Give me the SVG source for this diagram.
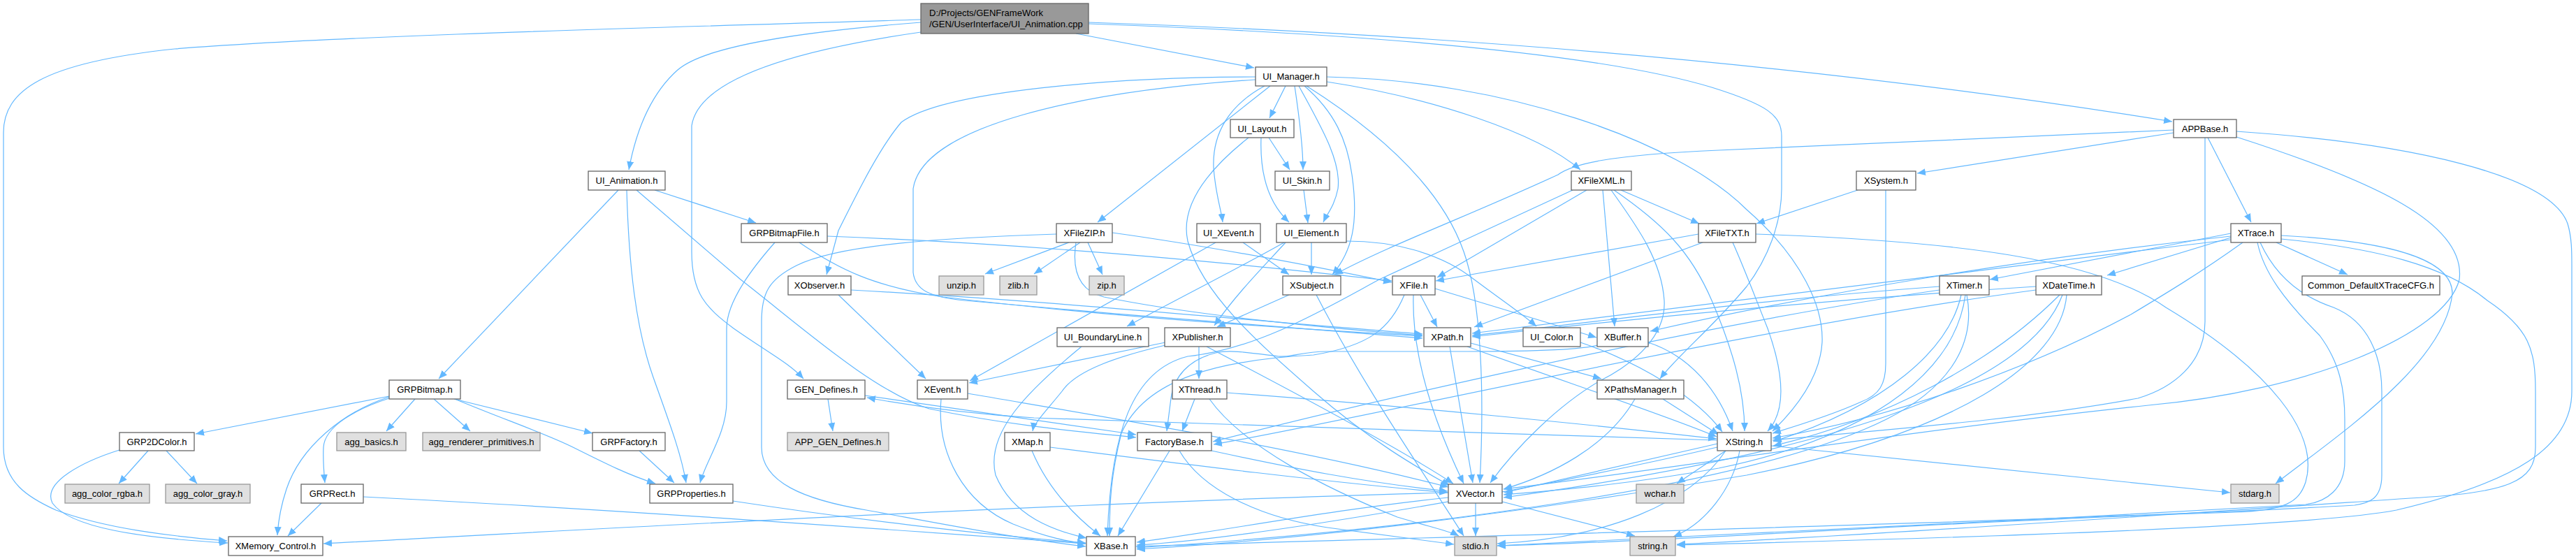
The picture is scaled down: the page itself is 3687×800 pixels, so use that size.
<svg xmlns="http://www.w3.org/2000/svg" width="3687" height="800" viewBox="0 0 3687 800">
<style>
.n rect{fill:#ffffff;stroke:#666666;stroke-width:1.3}
.g rect{fill:#e0e0e0;stroke:#999999;stroke-width:1.3}
.r rect{fill:#999999;stroke:#666666;stroke-width:1.3}
text{font-family:"Liberation Sans",Arial,sans-serif;font-size:13px;fill:#000000;text-anchor:middle}
.r text{text-anchor:start}
#edges path{fill:none;stroke:#63B8FF;stroke-width:1.2;marker-end:url(#a)}
</style>
<defs>
<marker id="a" viewBox="0 0 12 10" refX="12" refY="5" markerWidth="12" markerHeight="10" markerUnits="userSpaceOnUse" orient="auto">
<path d="M0,0 L12,5 L0,10 z" fill="#63B8FF"/>
</marker>
</defs>
<rect width="3687" height="800" fill="#ffffff"/>
<g id="edges">
<path d="M1318,28 C1000,38 500,50 250,70 C60,90 5,130 5,190 L5,640 C5,690 40,712 80,730 C150,756 240,767 325,774"/>
<path d="M1318,32 C1150,45 1010,65 970,100 C925,140 908,200 900,243"/>
<path d="M1318,46 C1150,70 1000,110 990,180 L990,360 C990,420 1010,440 1050,470 C1100,505 1130,520 1150,542"/>
<path d="M1540,48 L1795,97"/>
<path d="M1558,32 Q2400,60 3109,174"/>
<path d="M1558,34 C2000,50 2300,80 2450,125 C2530,150 2550,165 2550,195 L2550,270 C2550,320 2530,370 2500,410 C2450,470 2400,510 2376,542"/>
<path d="M937,272 L1082,319"/>
<path d="M885,272 L628,542"/>
<path d="M897,272 C900,380 910,470 935,540 C960,610 975,650 982,691"/>
<path d="M911,272 L1060,400 C1150,470 1250,560 1330,585 C1450,610 1550,618 1626,626"/>
<path d="M1109,347 C1080,380 1040,430 1040,470 L1040,575 C1040,620 1010,660 1002,691"/>
<path d="M1184,338 C1500,350 1800,380 1992,402"/>
<path d="M1144,347 C1200,385 1250,410 1350,425 C1600,455 1850,470 2036,481"/>
<path d="M1797,110 C1600,110 1350,130 1290,175 C1260,210 1230,270 1200,330 L1183,393"/>
<path d="M1797,114 C1550,130 1320,180 1307,270 L1307,390 C1310,415 1330,425 1380,430 C1600,450 1850,470 2036,484"/>
<path d="M1810,123 C1760,150 1735,190 1737,240 C1740,280 1748,300 1750,318"/>
<path d="M1818,123 L1571,318"/>
<path d="M1840,123 L1817,169"/>
<path d="M1853,123 C1860,170 1865,210 1865,243"/>
<path d="M1859,123 C1890,180 1920,230 1915,270 C1910,295 1900,305 1894,318"/>
<path d="M1867,123 C1910,160 1928,200 1935,250 C1945,320 1935,360 1907,393"/>
<path d="M1870,123 C1960,180 2060,260 2095,360 C2120,430 2125,560 2118,691"/>
<path d="M1899,110 C2150,115 2400,200 2500,300 C2580,370 2610,440 2608,490 C2605,540 2570,585 2537,617"/>
<path d="M1899,117 C2050,140 2200,190 2262,243"/>
<path d="M3111,190 L2744,248"/>
<path d="M3160,197 L3222,318"/>
<path d="M3111,186 L2460,215 C2300,222 2250,235 2230,250 C2100,310 1990,350 1910,393"/>
<path d="M3156,197 L3156,460 C3156,520 3110,555 3060,570 C2900,600 2700,615 2537,630"/>
<path d="M3201,188 C3450,205 3650,250 3675,320 C3681,340 3681,360 3681,380 L3681,560 C3681,640 3600,690 3430,730 C3300,755 2800,770 2400,780"/>
<path d="M3201,196 C3400,260 3530,320 3520,400 C3500,480 3300,560 3075,580 C2700,620 2400,670 2152,700"/>
<path d="M2659,272 L2514,320"/>
<path d="M2699,272 L2699,520 C2699,550 2690,565 2664,575 C2620,595 2570,610 2537,620"/>
<path d="M2271,272 L2057,397"/>
<path d="M2294,272 L2311,467"/>
<path d="M2306,272 C2340,320 2378,370 2382,430 C2385,480 2340,520 2290,545 C2230,580 2170,640 2133,691"/>
<path d="M2310,272 C2380,320 2420,360 2450,430 C2480,500 2497,560 2497,617"/>
<path d="M2320,272 L2432,320"/>
<path d="M2251,272 L1974,400 C1900,440 1800,500 1700,510 C1620,530 1590,620 1585,767"/>
<path d="M2431,335 L2055,402"/>
<path d="M2437,347 L2110,468"/>
<path d="M2480,347 C2495,380 2510,420 2530,470 C2555,540 2555,590 2530,617"/>
<path d="M2513,335 C2800,345 3000,370 3100,440 C3250,530 3320,620 3300,690 C3290,720 3270,730 3200,733 C2800,745 2400,775 2143,781"/>
<path d="M3193,334 L2848,400"/>
<path d="M3193,340 L3016,394"/>
<path d="M3193,338 C2900,370 2600,420 2362,474"/>
<path d="M3193,343 C2800,390 2400,440 2107,477"/>
<path d="M3258,347 L3360,393"/>
<path d="M3210,347 C3150,390 3100,420 3050,450 C2900,530 2700,600 2537,627"/>
<path d="M3265,337 C3420,345 3510,370 3510,420 C3500,520 3350,620 3257,692"/>
<path d="M3265,342 C3400,355 3500,380 3560,430 C3620,470 3629,500 3629,560 L3629,640 C3629,690 3590,705 3450,713 C3200,730 2700,765 2400,779"/>
<path d="M3231,347 C3240,390 3270,430 3320,480 C3350,520 3356,560 3356,600 L3356,660 C3356,700 3330,718 3300,722 C2900,745 2400,770 2143,781"/>
<path d="M3235,347 C3250,380 3280,420 3340,440 C3390,460 3409,510 3409,560 L3409,680 C3409,715 3390,720 3370,723 C3000,745 2000,770 1626,782"/>
<path d="M2776,410 C2500,430 2300,460 2107,480"/>
<path d="M2776,415 C2400,470 1900,590 1736,632"/>
<path d="M2807,422 C2790,500 2700,580 2538,632"/>
<path d="M2813,422 C2800,520 2700,620 2460,670 C2350,690 2250,700 2152,708"/>
<path d="M2815,422 C2830,500 2780,560 2700,600 C2500,700 2000,760 1627,784"/>
<path d="M2914,410 C2600,430 2300,460 2107,482"/>
<path d="M2914,415 C2500,470 1950,600 1737,636"/>
<path d="M2948,422 C2850,520 2700,600 2538,638"/>
<path d="M2952,422 C2900,560 2600,650 2152,712"/>
<path d="M2958,422 C2950,520 2800,620 2500,680 C2200,730 1900,770 1627,786"/>
<path d="M2075,496 L2108,691"/>
<path d="M2100,496 C2250,550 2400,600 2457,625"/>
<path d="M2105,491 L2292,542"/>
<path d="M2380,571 L2460,622"/>
<path d="M2340,571 C2300,640 2220,680 2152,700"/>
<path d="M2262,490 C2350,520 2430,570 2465,618"/>
<path d="M2359,490 C2420,510 2460,560 2480,617"/>
<path d="M2290,493 C2270,500 2200,503 2100,503 L1900,503 C1860,503 1850,512 1830,510 C1790,505 1760,500 1740,505 C1700,515 1680,540 1676,570 L1670,617"/>
<path d="M2112,720 L2112,767"/>
<path d="M2150,718 L2340,767"/>
<path d="M2073,712 C1900,730 1750,760 1627,776"/>
<path d="M2073,705 C1500,720 800,760 463,778"/>
<path d="M2458,635 L2153,705"/>
<path d="M2458,640 C2200,700 1800,770 1627,780"/>
<path d="M2470,645 C2420,720 2300,770 2143,778"/>
<path d="M2490,645 C2480,700 2440,750 2395,768"/>
<path d="M2470,645 L2400,692"/>
<path d="M2535,638 L3192,705"/>
<path d="M2457,630 C2100,618 1600,605 1480,598 C1380,592 1300,580 1241,569"/>
<path d="M1238,566 L1626,622"/>
<path d="M1185,571 L1192,617"/>
<path d="M1668,490 L1387,548"/>
<path d="M1668,494 C1600,510 1540,530 1520,560 C1500,585 1480,605 1478,617"/>
<path d="M1716,496 L1716,542"/>
<path d="M1727,496 C1850,560 2000,640 2080,692"/>
<path d="M1710,571 L1692,617"/>
<path d="M1756,562 C2000,580 2300,610 2457,628"/>
<path d="M1731,571 C1780,640 1900,700 2000,740 C2050,755 2075,760 2088,767"/>
<path d="M1347,571 C1340,650 1380,720 1450,750 C1500,770 1530,775 1554,778"/>
<path d="M1385,563 C1600,600 1850,640 2073,697"/>
<path d="M1477,645 C1500,700 1540,740 1575,767"/>
<path d="M1503,640 C1700,665 1900,690 2072,705"/>
<path d="M1674,645 L1600,767"/>
<path d="M1734,645 C1850,670 1950,690 2072,703"/>
<path d="M1688,645 C1720,700 1800,740 1900,755 C2000,768 2050,775 2081,779"/>
<path d="M1548,496 C1470,560 1410,620 1425,680 C1450,740 1510,760 1555,770"/>
<path d="M1200,422 L1325,542"/>
<path d="M1218,415 C1500,430 1800,460 2036,478"/>
<path d="M1530,347 L1410,392"/>
<path d="M1546,347 L1480,392"/>
<path d="M1557,347 L1578,393"/>
<path d="M1512,335 C1350,340 1200,350 1140,380 C1100,400 1090,420 1090,460 L1090,640 C1090,690 1150,715 1240,730 C1350,750 1450,770 1554,782"/>
<path d="M1592,333 C1750,355 1900,385 1992,404"/>
<path d="M1540,347 C1535,380 1540,415 1580,425 C1700,450 1900,470 2036,480"/>
<path d="M1740,347 L1388,545"/>
<path d="M1779,347 L1845,393"/>
<path d="M1884,422 C1950,550 2040,680 2095,767"/>
<path d="M1877,347 L1877,393"/>
<path d="M1838,347 C1780,380 1700,420 1613,467"/>
<path d="M1927,345 C1990,345 2060,360 2110,400 C2150,430 2180,450 2199,467"/>
<path d="M1840,347 C1810,380 1770,420 1738,466"/>
<path d="M1845,422 L1742,468"/>
<path d="M1866,272 L1872,319"/>
<path d="M1816,197 L1846,243"/>
<path d="M1805,197 C1803,250 1815,290 1845,318"/>
<path d="M1787,197 C1720,250 1690,300 1700,345 C1720,420 1800,490 1880,560 C1960,630 2030,670 2075,695"/>
<path d="M2033,422 L2057,468"/>
<path d="M2023,422 C2020,520 2060,620 2095,692"/>
<path d="M2010,422 C1990,470 1960,495 1880,508 C1750,515 1640,540 1605,620 C1590,680 1588,720 1588,767"/>
<path d="M2054,413 L2285,483"/>
<path d="M557,567 L280,621"/>
<path d="M594,571 L553,617"/>
<path d="M621,571 L673,617"/>
<path d="M650,571 L848,620"/>
<path d="M651,571 C720,600 780,620 820,640 C870,665 900,680 938,692"/>
<path d="M557,570 C510,585 465,610 463,640 C462,660 464,680 465,691"/>
<path d="M557,568 C490,590 430,640 410,700 C400,730 398,750 397,766"/>
<path d="M212,645 L170,692"/>
<path d="M238,645 L282,692"/>
<path d="M171,644 C120,660 60,690 75,720 C100,755 200,770 326,777"/>
<path d="M460,720 L412,767"/>
<path d="M520,711 C900,730 1300,760 1554,778"/>
<path d="M915,645 L965,691"/>
<path d="M1049,717 C1200,740 1400,765 1554,777"/>
</g>
<g id="root" class="r"><rect x="1318" y="5" width="240" height="43"/><text x="1330" y="23">D:/Projects/GENFrameWork</text><text x="1330" y="39">/GEN/UserInterface/UI_Animation.cpp</text></g>
<g id="UI_Manager" class="n"><rect x="1797" y="96" width="102" height="27"/><text x="1848" y="114">UI_Manager.h</text></g>
<g id="APPBase" class="n"><rect x="3111" y="171" width="90" height="26"/><text x="3156" y="188.5">APPBase.h</text></g>
<g id="UI_Animation" class="n"><rect x="842" y="245" width="110" height="27"/><text x="897" y="263">UI_Animation.h</text></g>
<g id="UI_Layout" class="n"><rect x="1761" y="171" width="91" height="26"/><text x="1806.5" y="188.5">UI_Layout.h</text></g>
<g id="UI_Skin" class="n"><rect x="1825" y="245" width="78" height="27"/><text x="1864" y="263">UI_Skin.h</text></g>
<g id="XFileXML" class="n"><rect x="2249" y="245" width="86" height="27"/><text x="2292" y="263">XFileXML.h</text></g>
<g id="XSystem" class="n"><rect x="2657" y="245" width="85" height="27"/><text x="2699.5" y="263">XSystem.h</text></g>
<g id="GRPBitmapFile" class="n"><rect x="1061" y="320" width="123" height="27"/><text x="1122.5" y="338">GRPBitmapFile.h</text></g>
<g id="XFileZIP" class="n"><rect x="1512" y="320" width="80" height="27"/><text x="1552" y="338">XFileZIP.h</text></g>
<g id="UI_XEvent" class="n"><rect x="1713" y="320" width="91" height="27"/><text x="1758.5" y="338">UI_XEvent.h</text></g>
<g id="UI_Element" class="n"><rect x="1827" y="320" width="100" height="27"/><text x="1877" y="338">UI_Element.h</text></g>
<g id="XFileTXT" class="n"><rect x="2431" y="320" width="82" height="27"/><text x="2472" y="338">XFileTXT.h</text></g>
<g id="XTrace" class="n"><rect x="3193" y="320" width="72" height="27"/><text x="3229" y="338">XTrace.h</text></g>
<g id="unzip" class="g"><rect x="1344" y="395" width="64" height="27"/><text x="1376" y="413">unzip.h</text></g>
<g id="zlib" class="g"><rect x="1431" y="395" width="53" height="27"/><text x="1457.5" y="413">zlib.h</text></g>
<g id="zip" class="g"><rect x="1559" y="395" width="50" height="27"/><text x="1584" y="413">zip.h</text></g>
<g id="XSubject" class="n"><rect x="1836" y="395" width="83" height="27"/><text x="1877.5" y="413">XSubject.h</text></g>
<g id="XFile" class="n"><rect x="1993" y="395" width="61" height="27"/><text x="2023.5" y="413">XFile.h</text></g>
<g id="XObserver" class="n"><rect x="1128" y="395" width="90" height="27"/><text x="1173" y="413">XObserver.h</text></g>
<g id="XTimer" class="n"><rect x="2776" y="395" width="71" height="27"/><text x="2811.5" y="413">XTimer.h</text></g>
<g id="XDateTime" class="n"><rect x="2914" y="395" width="94" height="27"/><text x="2961" y="413">XDateTime.h</text></g>
<g id="Common_DefaultXTraceCFG" class="n"><rect x="3295" y="395" width="197" height="27"/><text x="3393.5" y="413">Common_DefaultXTraceCFG.h</text></g>
<g id="UI_BoundaryLine" class="n"><rect x="1513" y="469" width="131" height="27"/><text x="1578.5" y="487">UI_BoundaryLine.h</text></g>
<g id="XPublisher" class="n"><rect x="1667" y="469" width="94" height="27"/><text x="1714" y="487">XPublisher.h</text></g>
<g id="XPath" class="n"><rect x="2038" y="469" width="67" height="27"/><text x="2071.5" y="487">XPath.h</text></g>
<g id="UI_Color" class="n"><rect x="2180" y="469" width="82" height="27"/><text x="2221" y="487">UI_Color.h</text></g>
<g id="XBuffer" class="n"><rect x="2286" y="469" width="73" height="27"/><text x="2322.5" y="487">XBuffer.h</text></g>
<g id="GRPBitmap" class="n"><rect x="557" y="544" width="102" height="27"/><text x="608" y="562">GRPBitmap.h</text></g>
<g id="GEN_Defines" class="n"><rect x="1127" y="544" width="111" height="27"/><text x="1182.5" y="562">GEN_Defines.h</text></g>
<g id="XEvent" class="n"><rect x="1313" y="544" width="72" height="27"/><text x="1349" y="562">XEvent.h</text></g>
<g id="XThread" class="n"><rect x="1678" y="544" width="78" height="27"/><text x="1717" y="562">XThread.h</text></g>
<g id="XPathsManager" class="n"><rect x="2286" y="544" width="124" height="27"/><text x="2348" y="562">XPathsManager.h</text></g>
<g id="GRP2DColor" class="n"><rect x="171" y="619" width="107" height="26"/><text x="224.5" y="636.5">GRP2DColor.h</text></g>
<g id="agg_basics" class="g"><rect x="482" y="619" width="99" height="26"/><text x="531.5" y="636.5">agg_basics.h</text></g>
<g id="agg_renderer_primitives" class="g"><rect x="605" y="619" width="168" height="26"/><text x="689" y="636.5">agg_renderer_primitives.h</text></g>
<g id="GRPFactory" class="n"><rect x="848" y="619" width="104" height="26"/><text x="900" y="636.5">GRPFactory.h</text></g>
<g id="APP_GEN_Defines" class="g"><rect x="1127" y="619" width="145" height="26"/><text x="1199.5" y="636.5">APP_GEN_Defines.h</text></g>
<g id="XMap" class="n"><rect x="1438" y="619" width="65" height="26"/><text x="1470.5" y="636.5">XMap.h</text></g>
<g id="FactoryBase" class="n"><rect x="1628" y="619" width="106" height="26"/><text x="1681" y="636.5">FactoryBase.h</text></g>
<g id="XString" class="n"><rect x="2458" y="619" width="77" height="26"/><text x="2496.5" y="636.5">XString.h</text></g>
<g id="agg_color_rgba" class="g"><rect x="93" y="693" width="121" height="27"/><text x="153.5" y="711">agg_color_rgba.h</text></g>
<g id="agg_color_gray" class="g"><rect x="237" y="693" width="121" height="27"/><text x="297.5" y="711">agg_color_gray.h</text></g>
<g id="GRPRect" class="n"><rect x="431" y="693" width="89" height="27"/><text x="475.5" y="711">GRPRect.h</text></g>
<g id="GRPProperties" class="n"><rect x="930" y="693" width="119" height="27"/><text x="989.5" y="711">GRPProperties.h</text></g>
<g id="XVector" class="n"><rect x="2073" y="693" width="77" height="27"/><text x="2111.5" y="711">XVector.h</text></g>
<g id="wchar" class="g"><rect x="2342" y="693" width="68" height="27"/><text x="2376" y="711">wchar.h</text></g>
<g id="stdarg" class="g"><rect x="3193" y="693" width="69" height="27"/><text x="3227.5" y="711">stdarg.h</text></g>
<g id="XMemory_Control" class="n"><rect x="327" y="768" width="135" height="27"/><text x="394.5" y="786">XMemory_Control.h</text></g>
<g id="XBase" class="n"><rect x="1555" y="768" width="70" height="27"/><text x="1590" y="786">XBase.h</text></g>
<g id="stdio" class="g"><rect x="2082" y="768" width="60" height="27"/><text x="2112" y="786">stdio.h</text></g>
<g id="string" class="g"><rect x="2333" y="768" width="65" height="27"/><text x="2365.5" y="786">string.h</text></g>
</svg>
